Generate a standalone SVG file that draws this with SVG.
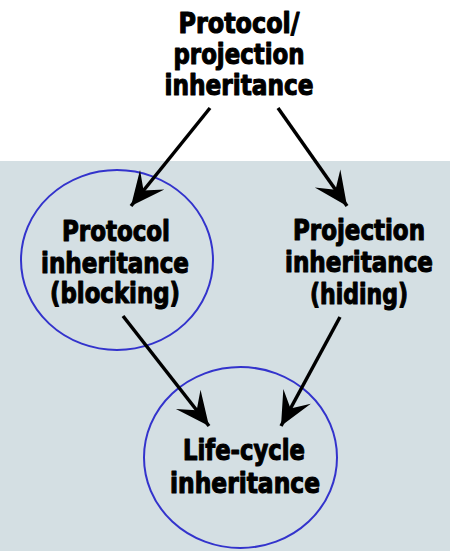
<svg xmlns="http://www.w3.org/2000/svg" width="450" height="551" viewBox="0 0 450 551">
  <style>
    .lbl { font-family: "DejaVu Sans", "Liberation Sans", sans-serif; font-stretch: condensed; font-weight: bold; font-size: 29px; fill: #000; stroke: #000; stroke-width: 1.1; stroke-linejoin: round; text-anchor: middle; }
    .ring { fill: none; stroke: #3333cc; stroke-width: 2; }
    .edge { stroke: #000; stroke-width: 3.5; fill: none; marker-end: url(#head); }
  </style>
  <defs>
    <marker id="head" markerUnits="userSpaceOnUse" markerWidth="40" markerHeight="40" viewBox="-30 -15 32 30" refX="0" refY="0" orient="auto">
      <path d="M0,0 L-27,-12.5 L-16,0 L-27,12.5 Z" fill="#000"/>
    </marker>
  </defs>

  <!-- backdrop -->
  <rect x="0" y="0" width="450" height="551" fill="#ffffff"/>
  <rect x="0" y="161" width="450" height="390" fill="#d4dfe3"/>

  <g id="node-protocol-projection">
    <text class="lbl" x="239" y="33" textLength="121" lengthAdjust="spacingAndGlyphs">Protocol/</text>
    <text class="lbl" x="239" y="64" textLength="131" lengthAdjust="spacingAndGlyphs">projection</text>
    <text class="lbl" x="239" y="95" textLength="149" lengthAdjust="spacingAndGlyphs">inheritance</text>
  </g>

  <g id="node-protocol">
    <ellipse class="ring" cx="117" cy="260" rx="96" ry="90"/>
    <text class="lbl" x="116" y="241" textLength="108" lengthAdjust="spacingAndGlyphs">Protocol</text>
    <text class="lbl" x="115" y="273" textLength="148" lengthAdjust="spacingAndGlyphs">inheritance</text>
    <text class="lbl" x="115" y="303" textLength="130" lengthAdjust="spacingAndGlyphs">(blocking)</text>
  </g>

  <g id="node-projection">
    <text class="lbl" x="359" y="240" textLength="132" lengthAdjust="spacingAndGlyphs">Projection</text>
    <text class="lbl" x="359" y="272" textLength="148" lengthAdjust="spacingAndGlyphs">inheritance</text>
    <text class="lbl" x="359" y="304" textLength="98" lengthAdjust="spacingAndGlyphs">(hiding)</text>
  </g>

  <g id="node-lifecycle">
    <ellipse class="ring" cx="240.5" cy="457.5" rx="96.5" ry="90.5"/>
    <text class="lbl" x="244" y="460" textLength="122" lengthAdjust="spacingAndGlyphs">Life-cycle</text>
    <text class="lbl" x="245" y="493" textLength="150" lengthAdjust="spacingAndGlyphs">inheritance</text>
  </g>

  <g id="connectors">
    <line class="edge" x1="210" y1="108" x2="131" y2="206"/>
    <line class="edge" x1="278" y1="108" x2="347" y2="206"/>
    <line class="edge" x1="123" y1="316" x2="209" y2="426"/>
    <line class="edge" x1="340" y1="317" x2="281" y2="426"/>
  </g>
</svg>
